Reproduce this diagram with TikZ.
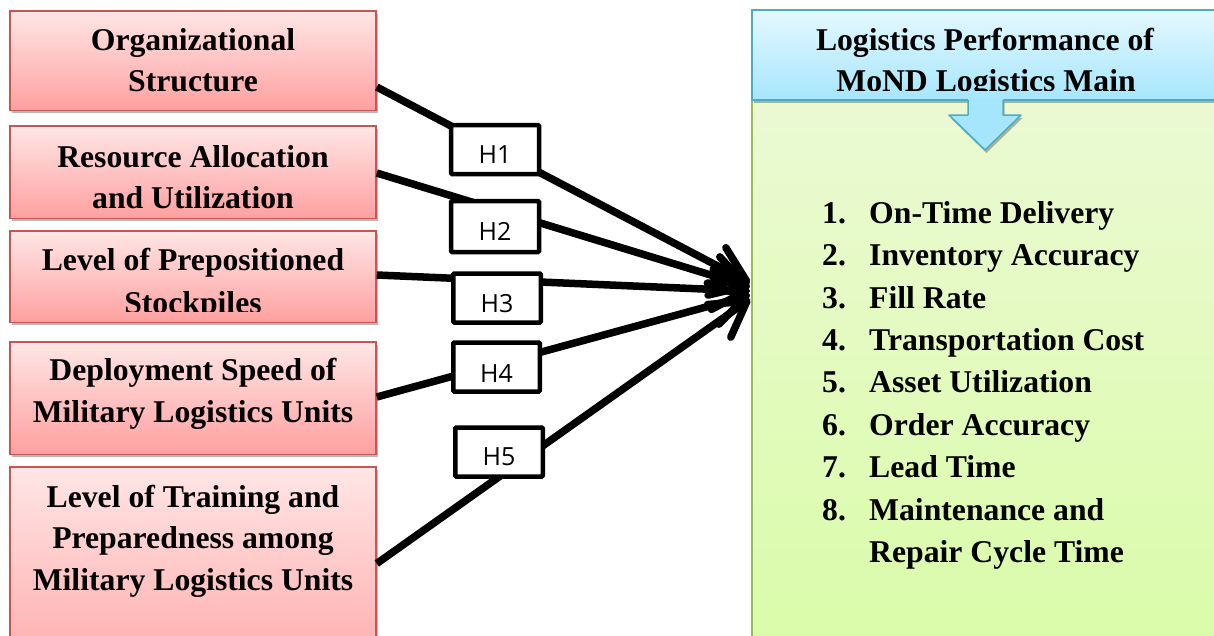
\documentclass[tikz,border=0pt]{standalone}
\usepackage{fontspec}
\setmainfont{Liberation Serif}
\newfontfamily\hlabfont{Open Sans}
\usetikzlibrary{arrows.meta,shadows}

\definecolor{redline}{RGB}{200,85,82}
\definecolor{redtop}{RGB}{255,230,230}
\definecolor{redbot}{RGB}{255,160,160}
\definecolor{blueline}{RGB}{75,172,198}
\definecolor{bluetop}{RGB}{228,248,255}
\definecolor{bluebot}{RGB}{166,230,252}
\definecolor{greenline}{RGB}{155,187,89}
\definecolor{greentop}{RGB}{238,249,218}
\definecolor{greenbot}{RGB}{216,252,164}

\tikzset{
  softshadow/.style={drop shadow={shadow xshift=1.5pt, shadow yshift=-3pt, opacity=0.28, fill=black}},
  factor/.style={draw=redline, line width=1.5pt, top color=redtop, bottom color=redbot,
    minimum width=366pt, inner sep=0pt, softshadow},
  ftext/.style={anchor=base, inner sep=0pt, font=\bfseries\fontsize{31.7}{42}\selectfont},
  ltext/.style={anchor=base west, inner sep=0pt, font=\bfseries\fontsize{31.7}{42}\selectfont},
  hbox/.style={draw=black, fill=white, line width=4.5pt, minimum width=88pt,
    minimum height=49pt, inner sep=0pt, rounded corners=1pt},
  hlab/.style={anchor=base, inner sep=0pt, font=\hlabfont\fontsize{25}{30}\selectfont},
  conn/.style={line width=7.5pt, -{Straight Barb[length=34pt, width=40pt, round]}},
}

\begin{document}
\begin{tikzpicture}[x=1pt, y=-1pt]
\clip (0,0) rectangle (1214,635);
\fill[white] (0,0) rectangle (1214,635);

% factor boxes
\node[factor, minimum height=99.5pt] (o1) at (193,60.5) {};
\node[factor, minimum height=92.5pt] (o2) at (193,172) {};
\node[factor, minimum height=91.5pt] (o3) at (193,276.5) {};
\node[factor, minimum height=112.5pt] (o4) at (193,398) {};
\node[factor, minimum height=240pt] (o5) at (193,587) {};

% performance panel and its header
\node[draw=greenline, line width=1.5pt, top color=greentop, bottom color=greenbot,
  minimum width=496pt, minimum height=700pt, inner sep=0pt, softshadow] (panel) at (1000,360) {};
\node[draw=blueline, line width=1.5pt, top color=bluetop, bottom color=bluebot,
  minimum width=496pt, minimum height=90pt, inner sep=0pt, softshadow] (hdr) at (1000,55) {};

% down arrow under the header
\path[fill=bluebot, drop shadow={shadow xshift=1.5pt, shadow yshift=-3pt, opacity=0.28, fill=black}]
  (968,99) -- (968,115) -- (949,115) -- (985,150) -- (1021,115) -- (1003,115) -- (1003,99) -- cycle;
\draw[blueline, line width=1.5pt, line join=round]
  (968,100) -- (968,115) -- (949,115) -- (985,150) -- (1021,115) -- (1003,115) -- (1003,100);

% header text
\node[ftext] (hdra) at (985,50) {Logistics Performance of};
\begin{scope}
  \clip (752,10) rectangle (1214,90);
  \node[ftext] (hdrb) at (986,91.5) {MoND Logistics Main};
\end{scope}

% arrow tips
\coordinate (t1) at (750,283);
\coordinate (t2) at (750,287);
\coordinate (t3) at (750,291);
\coordinate (t4) at (750,295);
\coordinate (t5) at (750,299);

% connectors
\draw[conn] ([yshift=-26.5pt]o1.east) -- (t1);
\draw[conn] ([yshift=-1pt]o2.east) -- (t2);
\draw[conn] ([yshift=1.5pt]o3.east) -- (t3);
\draw[conn] ([yshift=1pt]o4.east) -- (t4);
\draw[conn] ([yshift=23.5pt]o5.east) -- (t5);

% hypothesis boxes
\node[hbox] (h1) at (495,149.5) {};
\node[hbox, minimum height=51pt] (h2) at (495,226.5) {};
\node[hbox, minimum width=87.5pt] (h3) at (497,298) {};
\node[hbox, minimum width=86.5pt] (h4) at (496.5,367) {};
\node[hbox, minimum width=87.5pt] (h5) at (499,452) {};
\node[hlab] (h1t) at ([yshift=-13.5pt]h1.center) {H1};
\node[hlab] (h2t) at ([yshift=-13.5pt]h2.center) {H2};
\node[hlab] (h3t) at ([yshift=-14pt]h3.center) {H3};
\node[hlab] (h4t) at ([yshift=-15pt]h4.center) {H4};
\node[hlab] (h5t) at ([yshift=-13pt]h5.center) {H5};

% factor texts
\node[ftext] (o1a) at (193,50) {Organizational};
\node[ftext] (o1b) at (193,91) {Structure};
\node[ftext] (o2a) at (193,167) {Resource Allocation};
\node[ftext] (o2b) at (193,208) {and Utilization};
\node[ftext] (o3a) at (193,270) {Level of Prepositioned};
\begin{scope}
  \clip (9,230) rectangle (377,311);
  \node[ftext] (o3b) at (193,313) {Stockpiles};
\end{scope}
\node[ftext] (o4a) at (193,380) {Deployment Speed of};
\node[ftext] (o4b) at (193,422) {Military Logistics Units};
\node[ftext] (o5a) at (193,507) {Level of Training and};
\node[ftext] (o5b) at (193,548) {Preparedness among};
\node[ftext] (o5c) at (193,590) {Military Logistics Units};

% performance list
\node[ltext] (n1) at (822,223) {1.};
\node[ltext] (l1) at (869,223) {On-Time Delivery};
\node[ltext] (n2) at (822,265) {2.};
\node[ltext] (l2) at (869,265) {Inventory Accuracy};
\node[ltext] (n3) at (822,308) {3.};
\node[ltext] (l3) at (869,308) {Fill Rate};
\node[ltext] (n4) at (822,350) {4.};
\node[ltext] (l4) at (869,350) {Transportation Cost};
\node[ltext] (n5) at (822,392) {5.};
\node[ltext] (l5) at (869,392) {Asset Utilization};
\node[ltext] (n6) at (822,435) {6.};
\node[ltext] (l6) at (869,435) {Order Accuracy};
\node[ltext] (n7) at (822,477) {7.};
\node[ltext] (l7) at (869,477) {Lead Time};
\node[ltext] (n8) at (822,520) {8.};
\node[ltext] (l8) at (869,520) {Maintenance and};
\node[ltext] (l8b) at (869,562) {Repair Cycle Time};
\end{tikzpicture}
\end{document}
